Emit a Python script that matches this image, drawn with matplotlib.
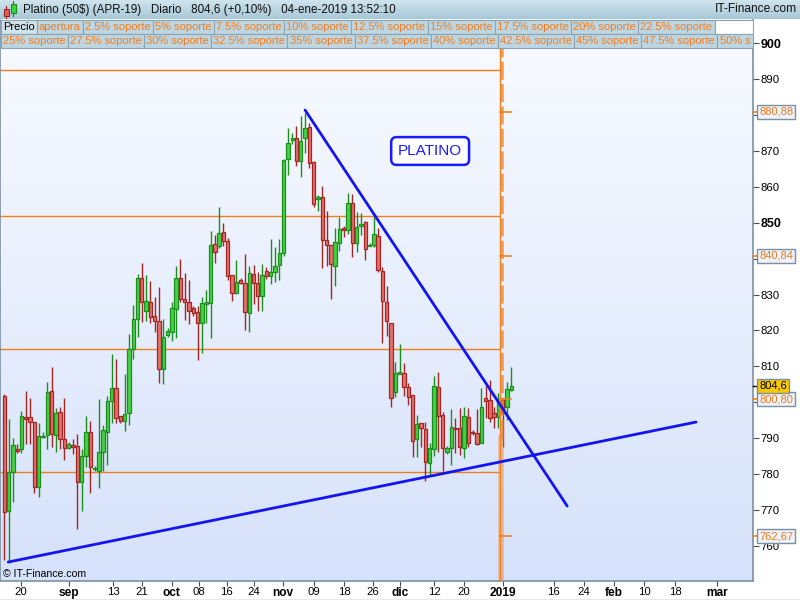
import matplotlib
matplotlib.use("Agg")
import matplotlib.pyplot as plt
import matplotlib.transforms as mtransforms
from matplotlib.patches import Rectangle
from matplotlib.colors import LinearSegmentedColormap
import numpy as np

plt.rcParams['font.family'] = ['Liberation Sans', 'DejaVu Sans']

# ---------------- data ----------------
opens = [801.8, 769.8, 780.5, 786.9, 786.9, 795.8, 795.8, 794.6, 776.5, 790.3,
         790.8, 803.1, 790.8, 797.2, 789.9, 787.2, 788.0, 787.7, 777.9, 785.0,
         791.7, 781.3, 781.0, 786.1, 791.8, 800.3, 803.9, 796.1, 794.9, 796.9,
         814.8, 823.1, 834.5, 825.5, 827.9, 824.0, 822.6, 809.2, 818.7, 819.5,
         825.9, 834.5, 828.7, 827.9, 826.2, 825.1, 822.0, 827.3, 827.6, 844.1,
         843.6, 847.4, 844.8, 835.4, 830.5, 834.0, 833.2, 825.0, 835.7, 833.2,
         829.7, 836.6, 835.3, 836.4, 838.2, 841.5, 867.7, 873.2, 873.5, 867.1,
         873.5, 876.6, 866.9, 856.6, 857.3, 845.1, 843.7, 838.0, 844.3, 848.5,
         848.0, 855.4, 844.3, 849.1, 850.1, 843.6, 843.8, 846.4, 836.5, 827.9,
         822.0, 803.0, 807.9, 808.1, 804.2, 802.0, 789.7, 794.2, 792.6, 783.2,
         786.9, 804.2, 796.5, 786.1, 787.2, 792.8, 792.8, 787.2, 796.0, 791.6,
         791.4, 788.6, 801.1, 800.6, 796.9, 795.8, 800.5, 798.6, 803.4]
highs = [802.3, 795.3, 790.1, 788.3, 797.5, 803.2, 801.2, 794.6, 794.2, 791.8,
         805.7, 809.8, 798.4, 798.6, 801.2, 788.9, 789.8, 791.2, 787.0, 796.2,
         794.7, 782.3, 800.9, 793.7, 801.8, 813.5, 812.1, 796.1, 807.9, 819.0,
         827.1, 835.7, 838.7, 835.5, 833.8, 829.3, 832.1, 823.2, 820.6, 828.0,
         838.0, 839.9, 836.0, 834.1, 826.9, 826.8, 829.4, 831.3, 847.7, 846.6,
         854.4, 849.9, 845.7, 835.4, 839.6, 834.5, 841.3, 838.0, 838.3, 836.2,
         838.5, 837.7, 845.4, 843.3, 845.5, 867.8, 876.4, 875.0, 877.0, 879.7,
         880.5, 877.9, 867.3, 857.7, 860.3, 853.3, 843.7, 848.6, 851.5, 849.0,
         858.2, 858.0, 853.1, 852.8, 850.6, 844.5, 851.7, 848.5, 837.8, 832.4,
         822.0, 811.3, 816.2, 810.9, 805.3, 802.0, 796.5, 794.2, 794.6, 788.6,
         807.3, 808.4, 797.4, 787.7, 798.1, 795.7, 798.5, 798.8, 798.3, 792.2,
         798.1, 803.9, 804.5, 806.2, 798.8, 802.5, 801.0, 805.7, 809.7]
lows = [756.1, 755.3, 772.3, 786.0, 785.8, 788.3, 788.3, 774.7, 773.7, 790.0,
        787.0, 787.6, 786.2, 786.9, 783.9, 786.9, 785.6, 764.8, 769.8, 782.1,
        774.8, 781.0, 776.2, 781.0, 782.5, 794.1, 794.3, 794.1, 792.1, 793.8,
        812.1, 818.3, 822.4, 822.7, 822.2, 819.6, 805.5, 805.1, 818.1, 817.0,
        818.0, 828.0, 822.9, 821.7, 824.0, 811.8, 813.8, 822.2, 818.0, 838.9,
        842.9, 843.5, 834.1, 828.2, 830.2, 832.9, 820.1, 819.7, 827.4, 825.5,
        825.5, 834.4, 833.0, 833.6, 834.1, 840.8, 863.3, 872.0, 865.9, 862.7,
        869.5, 865.2, 854.5, 853.4, 837.3, 838.0, 828.9, 832.5, 842.2, 846.1,
        846.9, 840.6, 842.0, 846.6, 839.6, 843.4, 843.3, 836.4, 816.4, 818.6,
        798.8, 801.6, 807.9, 801.8, 799.2, 784.7, 784.8, 787.6, 778.1, 779.5,
        785.0, 786.1, 780.9, 785.6, 782.5, 785.8, 785.3, 784.6, 787.6, 790.8,
        788.1, 788.6, 795.5, 794.6, 792.8, 792.8, 787.6, 795.1, 803.2]
closes = [769.4, 780.5, 788.0, 786.5, 796.1, 795.4, 794.6, 776.5, 790.5, 790.7,
          802.8, 791.1, 797.0, 789.9, 787.2, 788.3, 787.6, 777.7, 785.0, 791.7,
          782.1, 781.7, 786.2, 792.2, 800.3, 803.9, 795.5, 794.7, 796.7, 814.8,
          823.1, 834.5, 828.0, 828.1, 823.8, 822.6, 809.2, 818.1, 819.8, 826.2,
          834.5, 828.7, 827.9, 825.4, 824.8, 822.0, 827.6, 828.0, 843.8, 842.0,
          847.1, 844.8, 835.3, 830.5, 833.6, 833.2, 825.2, 836.0, 833.3, 829.7,
          835.5, 835.3, 836.3, 838.1, 841.5, 867.4, 872.1, 873.4, 867.1, 872.9,
          876.3, 866.6, 855.2, 857.1, 845.2, 843.7, 838.4, 844.6, 848.2, 848.0,
          855.4, 844.3, 848.7, 849.8, 842.6, 843.8, 846.8, 836.9, 828.1, 822.6,
          801.1, 808.1, 808.5, 804.3, 801.6, 789.3, 793.9, 792.8, 783.5, 787.2,
          804.5, 796.3, 787.2, 787.2, 793.0, 792.5, 787.5, 796.2, 788.7, 791.4,
          788.4, 798.8, 800.4, 795.5, 795.8, 800.4, 797.0, 803.6, 804.6]

date_tick_pos = [3.9, 15.1, 25.3, 32.0, 39.0, 45.3, 51.8, 58.1, 64.9, 72.1, 79.1,
                 85.8, 92.1, 100.0, 107.0, 116.1, 127.9, 134.9, 141.9, 148.9, 156.1, 165.9]
date_tick_labels = ['20', 'sep', '13', '21', 'oct', '08', '16', '24', 'nov', '09', '18',
                    '26', 'dic', '12', '20', '2019', '16', '24', 'feb', '10', '18', 'mar']
bold_date_labels = ['sep', 'oct', 'nov', 'dic', '2019', 'feb', 'mar']

price_ticks = list(range(760, 901, 10))
bold_price_ticks = [850, 900]
hidden_price_labels = [800, 840, 880]   # covered by the value boxes in the reference
support_values = [880.88, 840.84, 800.80, 762.67]
support_labels = ['880,88', '840,84', '800,80', '762,67']
last_price = 804.6
last_price_label = '804,6'

level_lines = [892.6, 851.9, 814.8, 780.7]
level_end_x = 115.1
apertura_x = 115.4
trend_down_x = [70.0, 131.0]
trend_down_y = [881.4, 771.1]
trend_up_x = [0.9, 161.0]
trend_up_y = [755.5, 794.5]
title_box_pos = (99.1, 870.0)

legend_row1 = ['Precio', 'apertura', '2.5% soporte', '5% soporte', '7.5% soporte',
               '10% soporte', '12.5% soporte', '15% soporte', '17.5% soporte',
               '20% soporte', '22.5% soporte']
legend_row2 = ['25% soporte', '27.5% soporte', '30% soporte', '32.5% soporte',
               '35% soporte', '37.5% soporte', '40% soporte', '42.5% soporte',
               '45% soporte', '47.5% soporte', '50% soporte']
header_text = 'Platino (50$) (APR-19)   Diario   804,6 (+0,10%)   04-ene-2019 13:52:10'

# ---------------- figure ----------------
W, H = 800, 600
fig = plt.figure(figsize=(8, 6), dpi=100, facecolor='white')

ax_left_px, ax_right_px, ax_top_px, ax_bot_px = 0, 753, 19, 581
ax = fig.add_axes([ax_left_px / W, (H - ax_bot_px) / H,
                   (ax_right_px - ax_left_px) / W, (ax_bot_px - ax_top_px) / H])
xlim = (-1.0, 174.24)
ylim = (750.22, 906.77)
ax.set_xlim(*xlim)
ax.set_ylim(*ylim)

# background gradient
bg_cmap = LinearSegmentedColormap.from_list('bg', ['#d6e2fb', '#f9fbff'])
ax.imshow(np.linspace(0, 1, 256).reshape(-1, 1), cmap=bg_cmap, origin='lower',
          extent=(xlim[0], xlim[1], ylim[0], ylim[1]), aspect='auto', zorder=0)

# horizontal levels
for lv in level_lines:
    ax.plot([xlim[0], level_end_x], [lv, lv], color='#f07d1a', lw=1.0, zorder=2)

# candles
g_fill, g_edge = '#46d246', '#1b8f1b'
r_fill, r_edge = '#e4706c', '#a52424'
bw = 0.78
for i, (o, h, l, c) in enumerate(zip(opens, highs, lows, closes)):
    up = c >= o
    fc, ec = (g_fill, g_edge) if up else (r_fill, r_edge)
    ax.plot([i, i], [l, h], color=ec, lw=1.0, zorder=3, solid_capstyle='butt')
    bottom = min(o, c)
    height = max(abs(c - o), 0.35)
    ax.add_patch(Rectangle((i - bw / 2, bottom), bw, height, facecolor=fc,
                           edgecolor=ec, lw=0.9, zorder=4))

# apertura vertical
ax.plot([apertura_x, apertura_x], [ylim[0], 899.0], color='#f08020', lw=1.0, zorder=5)
ax.plot([apertura_x + 0.45, apertura_x + 0.45], [790.0, 899.0], color='#f08020', lw=2.6,
        alpha=0.75, dashes=(5, 1.2), zorder=5)
ax.plot([apertura_x + 0.3, apertura_x + 0.3], [ylim[0], 790.0], color='#f08020', lw=4.0,
        alpha=0.45, zorder=5)
for sv in support_values:
    ax.plot([apertura_x, apertura_x + 2.6], [sv, sv], color='#f08020', lw=1.2, zorder=5)

# trend lines
ax.plot(trend_down_x, trend_down_y, color='#1414f0', lw=2.0, zorder=6, solid_capstyle='round')
ax.plot(trend_up_x, trend_up_y, color='#1414f0', lw=2.0, zorder=6, solid_capstyle='round')

# title box
ax.text(title_box_pos[0], title_box_pos[1], 'PLATINO', color='#1a1aff', fontsize=11,
        ha='center', va='center', zorder=7,
        bbox=dict(boxstyle='round,pad=0.45,rounding_size=0.35', fc='white', ec='#1a1aff', lw=1.8))

ax.text(3 / 753, 7 / 562, '\u00a9 IT-Finance.com', transform=ax.transAxes, fontsize=7.6,
        ha='left', va='center', color='black', zorder=7)

# axes styling
ax.spines['top'].set_visible(False)
for s in ['left', 'right', 'bottom']:
    ax.spines[s].set_color('#7c90a2')
    ax.spines[s].set_linewidth(1.2)

ax.yaxis.tick_right()
ax.set_yticks(price_ticks)
ax.set_yticklabels(['' if v in hidden_price_labels else str(v) for v in price_ticks])
ax.tick_params(axis='y', direction='out', length=4, width=0.8, color='#45505a',
               pad=1.5, labelsize=8.2)
for lab, v in zip(ax.get_yticklabels(), price_ticks):
    if v in bold_price_ticks:
        lab.set_fontweight('bold')
        lab.set_fontsize(9)

ax.set_xticks(date_tick_pos)
ax.set_xticklabels(date_tick_labels)
ax.tick_params(axis='x', direction='out', length=3.5, width=0.8, color='#45505a',
               pad=0.8, labelsize=8.2)
for lab in ax.get_xticklabels():
    if lab.get_text() in bold_date_labels:
        lab.set_fontweight('bold')
        lab.set_fontsize(8.6)

# right-axis value boxes
btrans = mtransforms.blended_transform_factory(ax.transAxes, ax.transData)
xlab = 759 / 753
for sv, sl in zip(support_values, support_labels):
    ax.plot([1.0, 1.0 + 5 / 753], [sv, sv], color='#f08020', lw=1.2, transform=btrans,
            clip_on=False, zorder=8)
    ax.text(xlab, sv, sl, transform=btrans, color='#f07818', fontsize=8, ha='left',
            va='center', zorder=9, clip_on=False,
            bbox=dict(boxstyle='square,pad=0.18', fc='#eef3fb', ec='#7890a2', lw=1.0))
ax.plot([1.0, 1.0 + 5 / 753], [last_price, last_price], color='black', lw=1.0,
        transform=btrans, clip_on=False, zorder=8)
ax.text(xlab, last_price, last_price_label, transform=btrans, color='black', fontsize=8,
        ha='left', va='center', zorder=9, clip_on=False,
        bbox=dict(boxstyle='square,pad=0.18', fc='#f8c800', ec='#7890a2', lw=1.0))

# ---------------- overlay: header & legend ----------------
ov = fig.add_axes([0, 0, 1, 1], zorder=5)
ov.set_xlim(0, W)
ov.set_ylim(H, 0)
ov.axis('off')
ov.patch.set_alpha(0)

hdr_cmap = LinearSegmentedColormap.from_list('hdr', ['#cfe4ee', '#a8c8d6'])
ov.imshow(np.linspace(0, 1, 64).reshape(-1, 1), cmap=hdr_cmap,
          extent=(0, W, 19, 0), aspect='auto', zorder=1)
# icon
ov.add_patch(Rectangle((3.5, 8.5), 5, 7, fc='#e06060', ec='#a02020', lw=0.8, zorder=3))
ov.plot([6, 6], [6, 18], color='#a02020', lw=0.8, zorder=2)
ov.add_patch(Rectangle((10.5, 3.5), 5, 9, fc='#40d040', ec='#1b8f1b', lw=0.8, zorder=3))
ov.plot([13, 13], [1, 16], color='#1b8f1b', lw=0.8, zorder=2)
ov.text(23, 9.5, header_text, fontsize=8.4, ha='left', va='center', color='#101010', zorder=3)
ov.text(797, 9.5, 'IT-Finance.com', fontsize=8.6, ha='right', va='center', color='#101010',
        zorder=3)
# bottom frame line
ov.plot([0, W], [599.5, 599.5], color='#7c90a2', lw=1.0, zorder=3)

renderer = fig.canvas.get_renderer()


def draw_row(labels, y0, y1, first_black=False, fill_to=None, limit=ax_right_px):
    x = 0.5
    for k, lab in enumerate(labels):
        if x >= limit:
            break
        col = 'black' if (first_black and k == 0) else '#f47c1c'
        fc = '#d2e2ea' if (first_black and k == 0) else '#bdd6e1'
        t = ov.text(x + 2.2, (y0 + y1) / 2 + 0.5, lab, fontsize=8, color=col, ha='left',
                    va='center', zorder=4)
        full_w = t.get_window_extent(renderer).width
        w = full_w + 4.4
        # the last cell is cut by the price axis, as in the reference
        shown = lab
        while shown and t.get_window_extent(renderer).x1 > limit - 1:
            shown = shown[:-1]
            t.set_text(shown)
        wd = min(w, limit - x)
        ov.add_patch(Rectangle((x, y0), wd, y1 - y0, fc=fc, ec='#8aa3b2', lw=0.8, zorder=3))
        x += w
    if fill_to is not None and x < fill_to:
        ov.add_patch(Rectangle((x, y0), fill_to - x, y1 - y0, fc='white', ec='#8aa3b2',
                               lw=0.8, zorder=3))


draw_row(legend_row1, 19.5, 33.8, first_black=True, fill_to=ax_right_px)
draw_row(legend_row2, 33.8, 48.2)

fig.savefig('out.png', dpi=100, facecolor='white')
